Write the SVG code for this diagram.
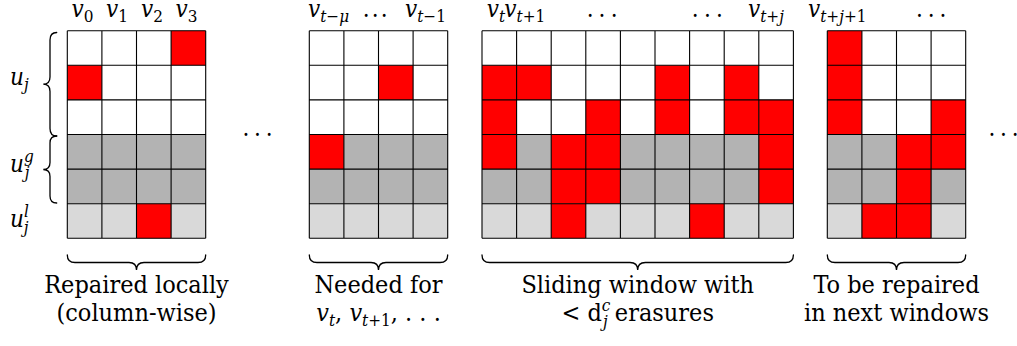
<svg xmlns="http://www.w3.org/2000/svg" width="1017" height="346" viewBox="0 0 1017 346">
<style>
.w{fill:#ffffff}
.g{fill:#b3b3b3}
.l{fill:#d9d9d9}
.r{fill:#ff0000}
.grid{fill:none;stroke:#000;stroke-width:1.1}
.brace{fill:none;stroke:#000;stroke-width:1.3;stroke-linecap:round}
text{font-family:"DejaVu Serif Condensed","DejaVu Serif",serif;fill:#000}
.m{font-size:24px;font-style:italic}
.cap{font-size:25px;text-anchor:middle}
.s{font-size:17px}
.up{font-style:normal}
.dots{font-size:24px}
</style>

<g id="labels-top">
<text class="m" x="71.5" y="17">v<tspan class="s up" dy="4.5">0</tspan></text>
<text class="m" x="106" y="17">v<tspan class="s up" dy="4.5">1</tspan></text>
<text class="m" x="141" y="17">v<tspan class="s up" dy="4.5">2</tspan></text>
<text class="m" x="175.5" y="17">v<tspan class="s up" dy="4.5">3</tspan></text>
<text class="m" x="308" y="17">v<tspan class="s" dy="4.5">t<tspan class="up">−</tspan>μ</tspan></text>
<text class="dots" x="362.8 371.8 380.8" y="16.5">...</text>
<text class="m" x="405" y="17">v<tspan class="s" dy="4.5">t<tspan class="up">−1</tspan></tspan></text>
<text class="m" x="486.7" y="17">v<tspan class="s" dy="4.5">t</tspan></text>
<text class="m" x="504.3" y="17">v<tspan class="s" dy="4.5">t<tspan class="up">+1</tspan></tspan></text>
<text class="dots" x="586.8 598.5 610.8" y="16.5">...</text>
<text class="dots" x="691.8 704.1 716.1" y="16.5">...</text>
<text class="m" x="748" y="17">v<tspan class="s" dy="4.5">t<tspan class="up">+</tspan>j</tspan></text>
<text class="m" x="808" y="17">v<tspan class="s" dy="4.5">t<tspan class="up">+</tspan>j<tspan class="up">+1</tspan></tspan></text>
<text class="dots" x="916.1 927.8 939.5" y="16.5">...</text>
</g>

<g id="labels-left">
<text class="m" x="10" y="85">u<tspan class="s" dy="4.5">j</tspan></text>
<text class="m" x="10" y="172">u<tspan class="s" dy="-10">g</tspan><tspan class="s" dx="-9" dy="16">j</tspan></text>
<text class="m" x="10" y="227">u<tspan class="s" dy="-10">l</tspan><tspan class="s" dx="-5" dy="16">j</tspan></text>
</g>

<g id="grid-local" transform="translate(67.3,30.7)">
<rect class="w" x="0" y="0" width="138.4" height="103.8"/>
<rect class="g" x="0" y="103.8" width="138.4" height="69.2"/>
<rect class="l" x="0" y="173" width="138.4" height="34.6"/>
<rect class="r" x="103.8" y="0" width="34.6" height="34.6"/>
<rect class="r" x="0" y="34.6" width="34.6" height="34.6"/>
<rect class="r" x="69.2" y="173" width="34.6" height="34.6"/>
<path class="grid" d="M0 0V207.6M34.6 0V207.6M69.2 0V207.6M103.8 0V207.6M138.4 0V207.6M0 0H138.4M0 34.6H138.4M0 69.2H138.4M0 103.8H138.4M0 138.4H138.4M0 173H138.4M0 207.6H138.4"/>
</g>

<g id="grid-needed" transform="translate(309.3,30.7)">
<rect class="w" x="0" y="0" width="138.4" height="103.8"/>
<rect class="g" x="0" y="103.8" width="138.4" height="69.2"/>
<rect class="l" x="0" y="173" width="138.4" height="34.6"/>
<rect class="r" x="69.2" y="34.6" width="34.6" height="34.6"/>
<rect class="r" x="0" y="103.8" width="34.6" height="34.6"/>
<path class="grid" d="M0 0V207.6M34.6 0V207.6M69.2 0V207.6M103.8 0V207.6M138.4 0V207.6M0 0H138.4M0 34.6H138.4M0 69.2H138.4M0 103.8H138.4M0 138.4H138.4M0 173H138.4M0 207.6H138.4"/>
</g>

<g id="grid-window" transform="translate(482,30.7)">
<rect class="w" x="0" y="0" width="311.4" height="103.8"/>
<rect class="g" x="0" y="103.8" width="311.4" height="69.2"/>
<rect class="l" x="0" y="173" width="311.4" height="34.6"/>
<rect class="r" x="0" y="34.6" width="34.6" height="34.6"/>
<rect class="r" x="34.6" y="34.6" width="34.6" height="34.6"/>
<rect class="r" x="173" y="34.6" width="34.6" height="34.6"/>
<rect class="r" x="242.2" y="34.6" width="34.6" height="34.6"/>
<rect class="r" x="0" y="69.2" width="34.6" height="34.6"/>
<rect class="r" x="103.8" y="69.2" width="34.6" height="34.6"/>
<rect class="r" x="173" y="69.2" width="34.6" height="34.6"/>
<rect class="r" x="242.2" y="69.2" width="34.6" height="34.6"/>
<rect class="r" x="276.8" y="69.2" width="34.6" height="34.6"/>
<rect class="r" x="0" y="103.8" width="34.6" height="34.6"/>
<rect class="r" x="69.2" y="103.8" width="34.6" height="34.6"/>
<rect class="r" x="103.8" y="103.8" width="34.6" height="34.6"/>
<rect class="r" x="276.8" y="103.8" width="34.6" height="34.6"/>
<rect class="r" x="69.2" y="138.4" width="34.6" height="34.6"/>
<rect class="r" x="103.8" y="138.4" width="34.6" height="34.6"/>
<rect class="r" x="276.8" y="138.4" width="34.6" height="34.6"/>
<rect class="r" x="69.2" y="173" width="34.6" height="34.6"/>
<rect class="r" x="207.6" y="173" width="34.6" height="34.6"/>
<path class="grid" d="M0 0V207.6M34.6 0V207.6M69.2 0V207.6M103.8 0V207.6M138.4 0V207.6M173 0V207.6M207.6 0V207.6M242.2 0V207.6M276.8 0V207.6M311.4 0V207.6M0 0H311.4M0 34.6H311.4M0 69.2H311.4M0 103.8H311.4M0 138.4H311.4M0 173H311.4M0 207.6H311.4"/>
</g>

<g id="grid-next" transform="translate(827.3,30.7)">
<rect class="w" x="0" y="0" width="138.4" height="103.8"/>
<rect class="g" x="0" y="103.8" width="138.4" height="69.2"/>
<rect class="l" x="0" y="173" width="138.4" height="34.6"/>
<rect class="r" x="0" y="0" width="34.6" height="103.8"/>
<rect class="r" x="103.8" y="69.2" width="34.6" height="69.2"/>
<rect class="r" x="69.2" y="103.8" width="34.6" height="103.8"/>
<rect class="r" x="34.6" y="173" width="34.6" height="34.6"/>
<path class="grid" d="M0 0V207.6M34.6 0V207.6M69.2 0V207.6M103.8 0V207.6M138.4 0V207.6M0 0H138.4M0 34.6H138.4M0 69.2H138.4M0 103.8H138.4M0 138.4H138.4M0 173H138.4M0 207.6H138.4"/>
</g>

<g id="gap-dots">
<text class="dots" x="242.5 254.1 265.8" y="136">...</text>
<text class="dots" x="988.5 1000.1 1011.8" y="136">...</text>
</g>

<g id="braces">
<path class="brace" d="M56.7 32.5Q50 32.5 50 40V77Q50 84.2 43.3 84.2Q50 84.2 50 91.4V128.5Q50 136 56.7 136"/>
<path class="brace" d="M56.7 136Q50 136 50 143V162.5Q50 169.5 43.3 169.5Q50 169.5 50 176.5V196Q50 203 56.7 203"/>
<path class="brace" d="M67.3 255Q67.3 262.5 75 262.5H129Q136.5 262.5 136.5 270Q136.5 262.5 144 262.5H198Q205.7 262.5 205.7 255"/>
<path class="brace" d="M309.3 255Q309.3 262.5 317 262.5H371Q378.5 262.5 378.5 270Q378.5 262.5 386 262.5H440Q447.7 262.5 447.7 255"/>
<path class="brace" d="M482 255Q482 262.5 489.7 262.5H630Q637.7 262.5 637.7 270Q637.7 262.5 645.4 262.5H785.7Q793.4 262.5 793.4 255"/>
<path class="brace" d="M827.3 255Q827.3 262.5 835 262.5H889Q896.5 262.5 896.5 270Q896.5 262.5 904 262.5H958Q965.7 262.5 965.7 255"/>
</g>

<g id="captions">
<text class="cap" x="136.5" y="293">Repaired locally</text>
<text class="cap" x="136.5" y="321">(column-wise)</text>
<text class="cap" x="378.5" y="293">Needed for</text>
<text class="cap" x="378.5" y="321"><tspan font-style="italic">v</tspan><tspan class="s" font-style="italic" dy="4.5">t</tspan><tspan dy="-4.5">, </tspan><tspan font-style="italic">v</tspan><tspan class="s" font-style="italic" dy="4.5">t</tspan><tspan class="s">+1</tspan><tspan dy="-4.5">, . . .</tspan></text>
<text class="cap" x="637.7" y="293">Sliding window with</text>
<text class="cap" x="637.7" y="321">&lt; d<tspan class="s" font-style="italic" dy="-10">c</tspan><tspan class="s" font-style="italic" dx="-7.5" dy="16">j</tspan><tspan dy="-6"> erasures</tspan></text>
<text class="cap" x="896.5" y="293">To be repaired</text>
<text class="cap" x="896.5" y="321">in next windows</text>
</g>
</svg>
